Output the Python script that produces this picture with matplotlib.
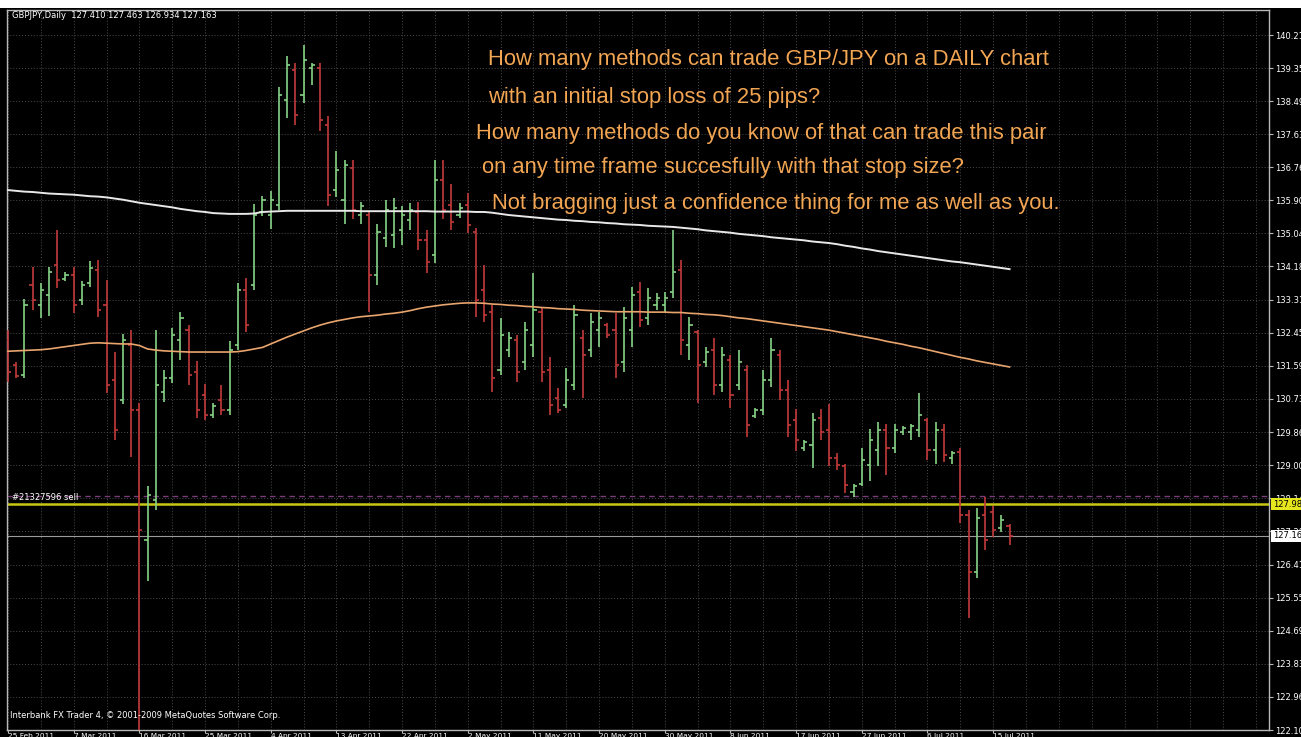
import matplotlib
matplotlib.use("Agg")
import matplotlib.pyplot as plt
import matplotlib.transforms as mtransforms
from matplotlib.patches import Rectangle

W, H = 1301, 737

# ---------------- data ----------------
opens = [
    132.26, 131.61, 131.35, 133.70, 133.18, 133.44, 134.22, 133.85, 133.96, 133.31,
    133.75, 134.09, 133.18, 131.22, 130.70, 132.13, 130.44, 127.05, 128.09, 130.91,
    131.27, 132.26, 132.52, 131.43, 130.83, 130.31, 130.70, 130.44, 132.13, 133.57,
    133.70, 135.60, 135.52, 135.78, 138.52, 139.30, 138.65, 139.35, 139.35, 137.87,
    136.17, 135.91, 136.75, 135.52, 135.52, 133.96, 134.92, 135.00, 135.13, 135.39,
    135.60, 134.87, 134.48, 136.43, 135.78, 135.52, 135.78, 135.08, 133.57, 132.99,
    131.48, 132.00, 132.26, 131.69, 132.13, 132.99, 131.48, 130.75, 130.57, 131.09,
    132.32, 132.00, 132.52, 132.65, 132.52, 131.69, 132.52, 133.51, 132.84, 133.18,
    133.18, 133.51, 134.09, 132.13, 132.47, 131.69, 132.00, 131.09, 131.74, 131.09,
    131.48, 130.28, 130.44, 131.22, 131.87, 130.96, 130.18, 129.45, 129.53, 130.23,
    129.92, 129.19, 128.98, 128.30, 128.51, 129.01, 129.40, 129.92, 129.45, 129.87,
    129.87, 129.92, 130.18, 129.40, 129.92, 129.19, 129.35, 127.70, 126.22, 127.70,
    127.78, 127.36, 127.410]
highs = [
    132.52, 131.69, 133.33, 134.17, 133.75, 134.17, 135.13, 134.04, 134.17, 133.80,
    134.32, 134.35, 133.83, 131.95, 132.42, 132.52, 130.62, 128.46, 132.52, 131.48,
    132.58, 132.99, 132.65, 131.72, 131.12, 130.62, 131.09, 132.24, 133.75, 133.88,
    135.81, 136.02, 136.15, 138.86, 139.66, 139.48, 139.95, 139.48, 139.48, 138.10,
    137.19, 136.95, 136.95, 135.86, 135.63, 135.29, 135.91, 135.96, 135.76, 135.83,
    135.86, 135.13, 136.95, 136.95, 136.33, 135.83, 136.09, 135.18, 134.22, 133.18,
    132.84, 132.47, 132.39, 132.73, 134.01, 133.12, 131.82, 131.01, 131.53, 133.18,
    132.52, 132.97, 132.99, 132.71, 132.97, 133.12, 133.64, 133.78, 133.62, 133.49,
    133.51, 135.13, 134.35, 132.86, 132.52, 132.08, 132.32, 132.08, 131.87, 132.00,
    131.61, 130.49, 131.48, 132.32, 132.00, 131.22, 130.47, 129.66, 130.36, 130.47,
    130.60, 129.32, 129.03, 128.51, 129.45, 129.94, 130.13, 130.08, 130.08, 130.02,
    130.08, 130.88, 130.23, 130.13, 130.08, 129.37, 129.45, 127.83, 127.89, 128.17,
    127.94, 127.70, 127.463]
lows = [
    131.17, 131.27, 131.27, 133.05, 132.84, 132.89, 133.62, 133.80, 132.97, 133.18,
    133.64, 132.86, 130.88, 129.66, 130.60, 129.21, 119.00, 125.98, 127.83, 130.65,
    131.14, 131.74, 131.09, 130.23, 130.18, 130.23, 130.31, 130.31, 132.00, 132.47,
    133.57, 135.50, 135.16, 135.65, 138.05, 137.87, 138.44, 138.91, 137.71, 135.76,
    135.99, 135.29, 135.42, 135.29, 132.99, 133.70, 134.69, 134.66, 134.74, 135.13,
    134.61, 134.01, 134.27, 135.42, 135.13, 135.44, 135.05, 132.86, 132.73, 130.91,
    131.35, 131.82, 131.17, 131.48, 131.82, 131.17, 130.31, 130.36, 130.49, 130.96,
    130.75, 131.82, 132.08, 132.32, 131.27, 131.43, 132.08, 132.60, 132.65, 133.05,
    132.99, 133.36, 131.87, 131.74, 130.62, 131.56, 130.83, 130.91, 130.49, 130.96,
    129.74, 130.23, 130.31, 131.04, 130.70, 129.74, 129.37, 129.37, 128.93, 129.66,
    128.98, 128.88, 128.28, 128.17, 128.46, 128.59, 128.98, 128.75, 129.32, 129.79,
    129.66, 129.74, 129.14, 129.03, 129.08, 129.03, 127.50, 125.02, 126.06, 126.79,
    127.13, 127.26, 126.934]
closes = [
    131.43, 131.33, 133.18, 133.31, 133.57, 134.04, 133.83, 133.96, 133.18, 133.70,
    134.14, 133.05, 131.09, 129.92, 132.26, 130.44, 127.31, 128.22, 131.09, 131.27,
    132.39, 132.84, 131.35, 130.44, 130.31, 130.54, 130.44, 132.00, 133.57, 132.65,
    135.52, 135.91, 135.91, 138.65, 139.43, 138.13, 139.56, 139.43, 138.00, 136.04,
    136.69, 136.82, 135.65, 135.76, 133.96, 135.08, 135.65, 135.70, 135.52, 135.65,
    134.87, 134.30, 136.43, 135.65, 135.34, 135.70, 135.26, 133.31, 132.92, 131.27,
    132.39, 132.32, 131.43, 132.52, 133.05, 131.43, 130.57, 130.44, 131.22, 132.92,
    131.87, 132.73, 132.84, 132.39, 131.61, 132.84, 133.44, 132.79, 133.36, 133.36,
    133.36, 134.04, 132.26, 132.65, 131.61, 131.95, 131.09, 131.87, 130.83, 131.69,
    130.05, 130.44, 131.22, 132.00, 130.96, 130.05, 129.66, 129.61, 130.18, 129.87,
    129.19, 129.01, 128.49, 128.46, 129.14, 129.66, 129.92, 129.45, 129.92, 129.97,
    130.02, 130.31, 129.40, 129.92, 129.27, 129.32, 127.70, 126.22, 127.63, 127.05,
    127.31, 127.57, 127.163]

ma_white = [
    136.17, 136.15, 136.13, 136.12, 136.10, 136.08,
    136.07, 136.06, 136.05, 136.03, 136.01, 136.00,
    135.98, 135.95, 135.92, 135.88, 135.84,
    135.81, 135.78, 135.75, 135.72, 135.68,
    135.65, 135.62, 135.60, 135.57,
    135.56, 135.55, 135.55, 135.55, 135.56,
    135.60, 135.61, 135.62, 135.63, 135.63,
    135.63, 135.63, 135.63, 135.63, 135.63, 135.63, 135.63, 135.62, 135.62, 135.62,
    135.62, 135.62, 135.62, 135.62, 135.62, 135.62, 135.61, 135.61, 135.61, 135.61,
    135.61, 135.60, 135.60,
    135.58, 135.55, 135.52,
    135.50, 135.48, 135.46, 135.44, 135.42, 135.40, 135.39,
    135.37, 135.36, 135.34, 135.33, 135.31, 135.30,
    135.28, 135.27, 135.26, 135.24, 135.23, 135.22, 135.21,
    135.19, 135.17, 135.15, 135.12, 135.10,
    135.08, 135.06, 135.03, 135.01, 134.99, 134.97, 134.94, 134.92,
    134.90, 134.88, 134.86, 134.83, 134.81, 134.79,
    134.76, 134.72, 134.69, 134.65, 134.62, 134.58,
    134.55, 134.52, 134.49, 134.46, 134.43, 134.40, 134.37, 134.34, 134.31, 134.29,
    134.26, 134.23, 134.20, 134.17, 134.14, 134.11]
ma_orange = [
    131.97, 131.98, 131.99, 132.00, 132.01, 132.03, 132.06, 132.09, 132.12, 132.15, 132.18,
    132.19, 132.18, 132.17, 132.16, 132.16, 132.12,
    132.03, 132.00, 131.98, 131.97, 131.96, 131.95, 131.95, 131.95, 131.95, 131.95, 131.95,
    131.96, 131.99, 132.03, 132.07, 132.16, 132.25, 132.34, 132.42,
    132.50, 132.58, 132.65, 132.71, 132.76, 132.80, 132.84, 132.87, 132.89, 132.91, 132.94,
    132.96, 132.99, 133.03,
    133.08, 133.12, 133.15, 133.18, 133.20, 133.22, 133.23, 133.23, 133.22,
    133.20, 133.19, 133.17, 133.16, 133.14, 133.13, 133.11, 133.10, 133.08, 133.07, 133.06,
    133.04, 133.03, 133.02, 133.01, 133.00,
    133.00, 133.00, 133.00, 132.99, 132.99, 132.99, 132.98, 132.98, 132.96, 132.95, 132.93,
    132.92, 132.90, 132.87, 132.84, 132.82, 132.79, 132.76, 132.73, 132.70, 132.67,
    132.64, 132.61, 132.58, 132.55, 132.52, 132.48, 132.44, 132.40, 132.36, 132.32,
    132.28, 132.23, 132.19, 132.15, 132.10, 132.06, 132.01, 131.96, 131.91, 131.86,
    131.81, 131.77, 131.72, 131.68, 131.64, 131.60, 131.56]

date_labels = ["25 Feb 2011", "7 Mar 2011", "16 Mar 2011", "25 Mar 2011", "4 Apr 2011",
               "13 Apr 2011", "22 Apr 2011", "2 May 2011", "11 May 2011", "20 May 2011",
               "30 May 2011", "8 Jun 2011", "17 Jun 2011", "27 Jun 2011", "6 Jul 2011",
               "15 Jul 2011"]
date_label_bars = [0, 8, 16, 24, 32, 40, 48, 56, 64, 72, 80, 88, 96, 104, 112, 120]

price_ticks = [122.10, 122.96, 123.83, 124.69, 125.55, 126.41, 127.28, 128.14, 129.00,
               129.86, 130.73, 131.59, 132.45, 133.31, 134.18, 135.04, 135.90, 136.76,
               137.63, 138.49, 139.35, 140.21]
price_labels = ["122.10", "122.96", "123.83", "124.69", "125.55", "126.41", "127.28",
                "128.14", "129.00", "129.86", "130.73", "131.59", "132.45", "133.31",
                "134.18", "135.04", "135.90", "136.76", "137.63", "138.49", "139.35",
                "140.21"]

order_price = 127.98
order_label = "#21327596 sell"
order_box = "127.98"
grid_line_price = 128.20
bid_price = 127.163
bid_box = "127.16"
header = "GBPJPY,Daily  127.410 127.463 126.934 127.163"
footer = "Interbank FX Trader 4, \u00a9 2001-2009 MetaQuotes Software Corp."
annotation_lines = [
    "How many methods can trade GBP/JPY on a DAILY chart",
    "with an initial stop loss of 25 pips?",
    "How many methods do you know of that can trade this pair",
    "on any time frame succesfully with that stop size?",
    "Not bragging just a confidence thing for me as well as you.",
]
annotation_pos = [(488, 60), (488, 98), (476, 134), (482, 168), (492, 203)]

# ---------------- figure ----------------
fig = plt.figure(figsize=(W / 100, H / 100), dpi=100, facecolor="black")
fig.patches.append(Rectangle((0, (H - 8) / H), 1, 8 / H, transform=fig.transFigure,
                             facecolor="white", edgecolor="none", zorder=0))

ax = fig.add_axes([7 / W, 7 / H, 1262 / W, 720 / H])
ax.set_facecolor("black")
ax.set_xlim(-0.12, 153.6)
ax.set_ylim(122.10, 140.863)

grid_kw = dict(color="#4c4c4c", lw=0.7, linestyle=(0, (1, 2)), zorder=1)
for p in price_ticks:
    ax.axhline(p, **grid_kw)
for i in range(0, 154, 4):
    ax.axvline(i, **grid_kw)

# order / price lines
ax.axhline(grid_line_price, color="#7a3d7a", lw=1.0, linestyle=(0, (4, 3)), zorder=2)
ax.axhline(order_price, color="#c8c814", lw=1.8, zorder=2)
ax.axhline(bid_price, color="#9a9a9a", lw=0.8, zorder=2)

# OHLC bars
bull, bear = "#86d486", "#c43a3a"
for i in range(len(opens)):
    o, h, l, c = opens[i], highs[i], lows[i], closes[i]
    col = bull if c >= o else bear
    ax.vlines(i, l, h, color=col, lw=1.2, zorder=4)
    ax.hlines(o, i - 0.38, i, color=col, lw=1.2, zorder=4)
    ax.hlines(c, i, i + 0.38, color=col, lw=1.2, zorder=4)

xs = list(range(len(ma_white)))
ax.plot(xs, ma_white, color="#e8e8e8", lw=1.4, zorder=5)
ax.plot(xs, ma_orange, color="#e9a56e", lw=1.2, zorder=5)

for s in ax.spines.values():
    s.set_color("#b8b8b8")
    s.set_linewidth(1.0)

ax.yaxis.tick_right()
ax.set_yticks(price_ticks, price_labels)
ax.tick_params(axis="y", direction="out", length=3, width=0.8, color="#b8b8b8",
               labelcolor="white", labelsize=6, pad=1.5)
ax.set_xticks(date_label_bars, date_labels)
ax.tick_params(axis="x", direction="out", length=2, width=0.8, color="#b8b8b8",
               labelcolor="white", labelsize=5.3, pad=0)
for lab in ax.get_xticklabels():
    lab.set_horizontalalignment("left")

trans = mtransforms.blended_transform_factory(ax.transAxes, ax.transData)
ax.text(1.003, order_price, order_box, transform=trans, fontsize=6, color="black",
        va="center", ha="left", clip_on=False, zorder=10,
        bbox=dict(facecolor="#e6e61e", edgecolor="none", pad=1.0))
ax.text(1.003, bid_price, bid_box, transform=trans, fontsize=6, color="black",
        va="center", ha="left", clip_on=False, zorder=10,
        bbox=dict(facecolor="white", edgecolor="none", pad=1.0))
ax.text(0.5, order_price + 0.07, order_label, fontsize=6, color="white",
        va="bottom", ha="left", zorder=10)

fig.text(12 / W, 1 - 15 / H, header, fontsize=6, color="white", va="center", ha="left")
fig.text(10 / W, 1 - 716 / H, footer, fontsize=6, color="white", va="center", ha="left")

for s, (px, py) in zip(annotation_lines, annotation_pos):
    fig.text(px / W, 1 - py / H, s, fontsize=15.8, color="#f2a552",
             family="Liberation Sans", va="center", ha="left")

fig.savefig("out.png", dpi=100, facecolor="black")
